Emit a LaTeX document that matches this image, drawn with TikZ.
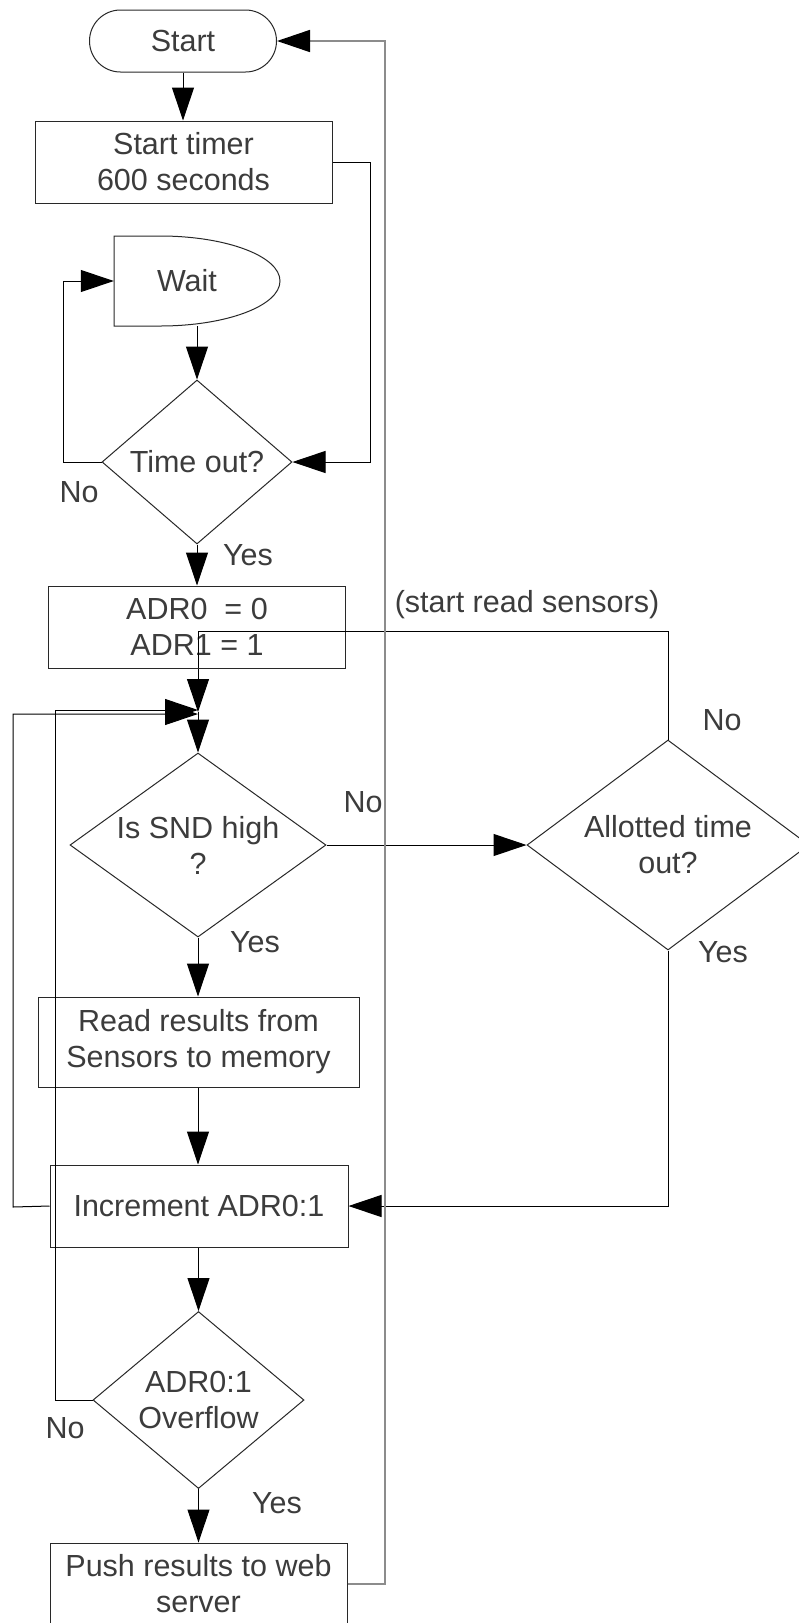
\documentclass[tikz,border=0pt]{standalone}
\usepackage{fontspec}
\setmainfont{Liberation Sans}
\usetikzlibrary{arrows.meta,shapes.misc,shapes.geometric}
\definecolor{txt}{RGB}{60,60,60}
\definecolor{edge}{RGB}{40,40,40}

\begin{document}
\begin{tikzpicture}[x=1pt,y=-1pt,
  every node/.style={font=\fontsize{30.5}{36}\selectfont, text=txt},
  line/.style={draw=black, line width=1pt},
  arr/.style={line, -{Triangle[length=33pt,width=22pt]}},
  backline/.style={draw=gray!90, line width=1.6pt, -{Triangle[length=33pt,width=22pt,color=black]}},
  proc/.style={draw=edge, line width=1pt, rectangle, align=center, inner sep=0pt},
  term/.style={draw=edge, line width=1pt, rounded rectangle, inner sep=0pt},
  dec/.style={draw=edge, line width=1pt, diamond, inner sep=0pt},
  dtext/.style={align=center, inner sep=0pt},
  lbl/.style={inner sep=0pt}
]
\path[use as bounding box, fill=white] (0,0) rectangle (799,1623);
\clip (0,0) rectangle (799,1623);

% ---- nodes ----
\node[term, minimum width=187pt, minimum height=62pt] (start) at (183,41) {Start};
\node[proc, minimum width=297pt, minimum height=82pt] (timer) at (183.5,162) {Start timer\\600 seconds};

% wait (delay) block
\draw[draw=edge, line width=1pt] (114,236) -- (160,236)
  arc[start angle=90, end angle=-90, x radius=120pt, y radius=45pt] -- (114,326) -- cycle;
\node[inner sep=0pt, minimum width=166pt, minimum height=90pt] (wait) at (197,281) {};
\node[lbl] (waittxt) at (187,281) {Wait};

\node[dec, minimum width=190pt, minimum height=164pt,
      label={[dtext]center:Time out?}] (tout) at (197,462) {};
\node[proc, minimum width=297pt, minimum height=82pt] (adr) at (197,627) {ADR0\ \ = 0\\ADR1 = 1};
\coordinate (j) at (198,712);
\node[dec, minimum width=256pt, minimum height=184pt,
      label={[dtext]center:{Is SND high\\?}}] (snd) at (198,845) {};
\node[dec, minimum width=282pt, minimum height=210pt,
      label={[dtext]center:{Allotted time\\out?}}] (allot) at (668,845) {};
\node[proc, minimum width=321pt, minimum height=90pt] (read) at (198.5,1042) {Read results from\\Sensors to memory};
\node[proc, minimum width=298pt, minimum height=82pt] (inc) at (199,1206) {Increment ADR0:1};
\node[dec, minimum width=211pt, minimum height=177pt,
      label={[dtext]center:{ADR0:1\\Overflow}}] (ovf) at (198.5,1400) {};
\node[proc, minimum width=297pt, minimum height=82pt] (push) at (198.5,1584) {Push results to web\\server};

% ---- labels ----
\node[lbl] (sensors) at (527,605) {(start read sensors)};
\node[lbl] (noA) at (79,492) {No};
\node[lbl] (yesA) at (248,555) {Yes};
\node[lbl] (noB) at (363,802) {No};
\node[lbl] (yesB) at (255,942) {Yes};
\node[lbl] (noC) at (722,720) {No};
\node[lbl] (yesC) at (723,952) {Yes};
\node[lbl] (noD) at (65,1428) {No};
\node[lbl] (yesD) at (277,1503) {Yes};

% ---- connectors ----
\draw[arr] (start.south) -- (timer.north -| start.south);
\draw[arr] (timer.east) -- (370,162) |- (tout.east);
\draw[arr] (wait.south) -- (tout.north);
\draw[arr] (tout.west) -- (63,462) |- (wait.west);
\draw[arr] (tout.south) -- (adr.north);
\draw[line] (allot.north) |- (198,631) -- (198,668);
\draw[arr] (adr.south -| j) -- (j);
\draw[arr] (j) -- (snd.north);
\draw[arr] (inc.west) -- (13,1207) |- ([yshift=-2pt]j);
\draw[arr] (ovf.west) -- (55,1400) |- ([yshift=2pt]j);
\draw[arr] (snd.east) -- (allot.west);
\draw[arr] (snd.south) -- (read.north -| snd.south);
\draw[arr] (read.south -| snd.south) -- (inc.north -| snd.south);
\draw[arr] (allot.south) |- (inc.east);
\draw[arr] (inc.south -| ovf.north) -- (ovf.north);
\draw[arr] (ovf.south) -- (push.north -| ovf.south);
\draw[backline] (push.east) -- (385,1584) |- (start.east);
\end{tikzpicture}
\end{document}
